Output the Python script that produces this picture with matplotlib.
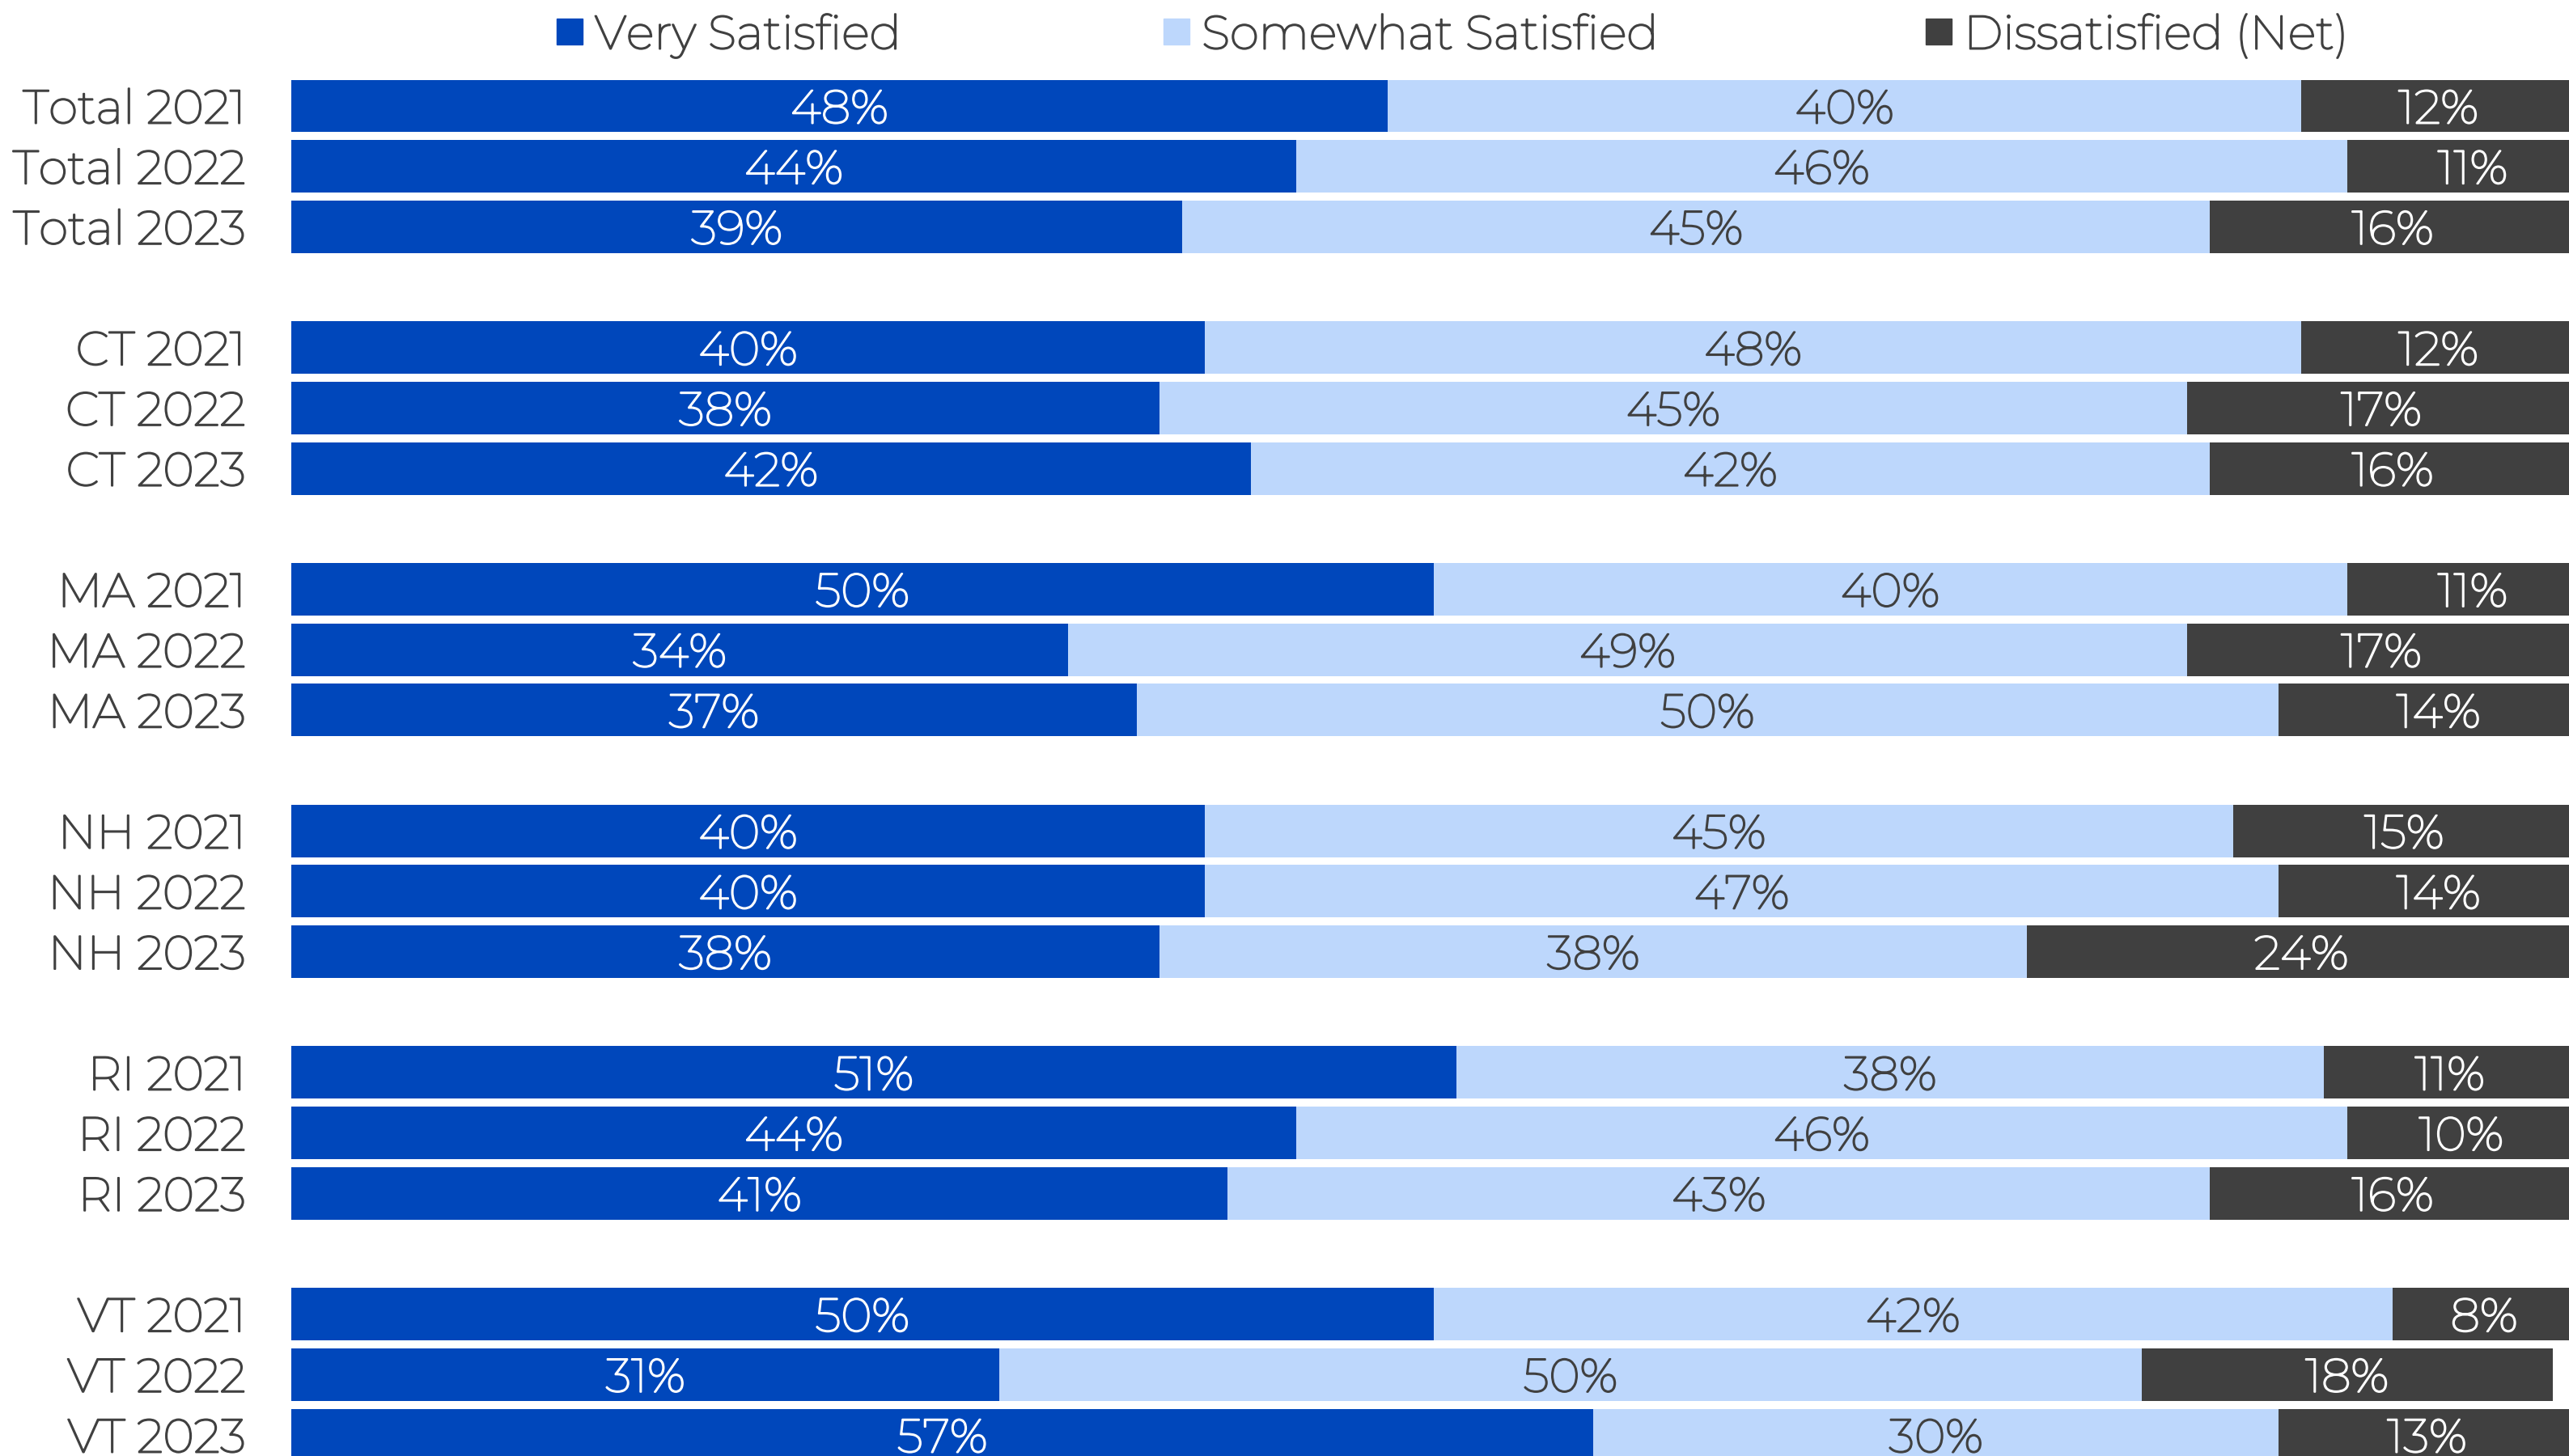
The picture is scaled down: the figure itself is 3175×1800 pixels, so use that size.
import matplotlib.pyplot as plt
import matplotlib.patheffects as pe
from matplotlib.patches import Rectangle

# Survey results, percent of respondents per group and year
labels = ["Total 2021", "Total 2022", "Total 2023",
          "CT 2021", "CT 2022", "CT 2023",
          "MA 2021", "MA 2022", "MA 2023",
          "NH 2021", "NH 2022", "NH 2023",
          "RI 2021", "RI 2022", "RI 2023",
          "VT 2021", "VT 2022", "VT 2023"]
very_satisfied = [48, 44, 39, 40, 38, 42, 50, 34, 37, 40, 40, 38, 51, 44, 41, 50, 31, 57]
somewhat_satisfied = [40, 46, 45, 48, 45, 42, 40, 49, 50, 45, 47, 38, 38, 46, 43, 42, 50, 30]
dissatisfied = [12, 11, 16, 12, 17, 16, 11, 17, 14, 15, 14, 24, 11, 10, 16, 8, 18, 13]

series_names = ["Very Satisfied", "Somewhat Satisfied", "Dissatisfied (Net)"]
colors = ["#0047BB", "#BDD7FC", "#404040"]
text_colors = ["white", "#404040", "white"]

FONT = ["Montserrat", "Open Sans", "DejaVu Sans"]
FS = 42
GRAY = "#404040"


def bolden(color):
    # the installed Montserrat is very thin, so thicken strokes a little
    return [pe.withStroke(linewidth=1.4, foreground=color)]


# three bars per state, one blank row between states
ypos = [i + (i // 3) for i in range(len(labels))]

fig = plt.figure(figsize=(31.75, 18), dpi=100)
W, H = 3175, 1800
left_px, right_px = 360, 3183
top_px, bot_px = 131 - 37.35, 1774 + 37.35
ax = fig.add_axes([left_px / W, 1 - bot_px / H, (right_px - left_px) / W, (bot_px - top_px) / H])

lefts = [0] * len(labels)
for vals, col, tcol in zip([very_satisfied, somewhat_satisfied, dissatisfied], colors, text_colors):
    ax.barh(ypos, vals, left=lefts, height=0.87, color=col, edgecolor="none")
    for y, l, v in zip(ypos, lefts, vals):
        ax.text(l + v / 2, y, f"{v}%", ha="center", va="center_baseline", fontsize=FS,
                color=tcol, family=FONT, path_effects=bolden(tcol))
    lefts = [a + b for a, b in zip(lefts, vals)]

ax.set_xlim(0, 100)
ax.set_ylim(max(ypos) + 0.5, -0.5)
ax.set_yticks(ypos)
ax.set_yticklabels(labels, fontsize=FS, color=GRAY, family=FONT)
for t in ax.get_yticklabels():
    t.set_path_effects(bolden(GRAY))
ax.tick_params(axis="y", length=0, pad=40)
ax.set_xticks([])
for s in ax.spines.values():
    s.set_visible(False)

# legend row across the top
legend_x = [688, 1438, 2380]
for x, name, col in zip(legend_x, series_names, colors):
    fig.add_artist(Rectangle((x / W, 1 - 55 / H), 32 / W, 32 / H, color=col,
                             transform=fig.transFigure))
    fig.text((x + 47) / W, 1 - 39 / H, name, ha="left", va="center_baseline", fontsize=FS,
             color=GRAY, family=FONT, path_effects=bolden(GRAY))

fig.savefig("out.png", dpi=100)
